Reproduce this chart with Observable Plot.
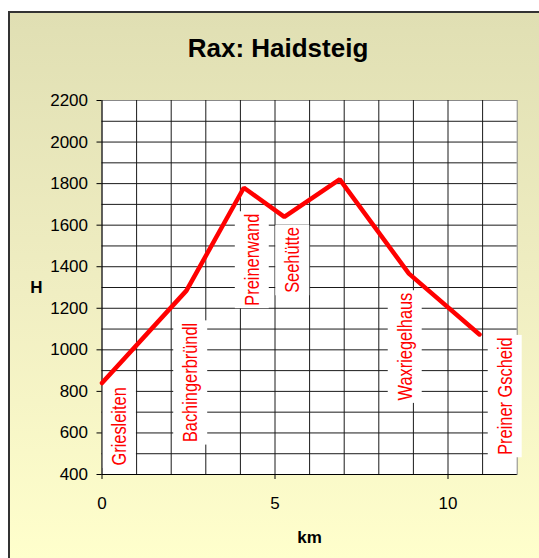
<!DOCTYPE html>
<html>
<head>
<meta charset="utf-8">
<script src="https://cdn.jsdelivr.net/npm/d3@7"></script>
<script src="https://cdn.jsdelivr.net/npm/@observablehq/plot@0.6"></script>
<style>
  html, body { margin: 0; padding: 0; }
  body { width: 539px; height: 558px; overflow: hidden; position: relative; background: #fff; font-family: "Liberation Sans", Arial, sans-serif; }
  #bg { position: absolute; left: 8px; top: 11px; width: 600px; height: 600px; box-sizing: border-box;
        border-left: 2px solid #333; border-top: 2px solid #333;
        background: linear-gradient(to bottom, #e0dfb3 0px, #f0eec2 280px, #ffffcc 547px); }
  #title { position: absolute; left: 0; top: 34.7px; width: 556px; text-align: center; font-size: 26px; line-height: 26px; font-weight: bold; color: #000; font-family: "Liberation Sans", Arial, sans-serif; }
  #chart { position: absolute; left: 0; top: 0; }
</style>
</head>
<body>
<div id="bg"></div>
<div id="title">Rax: Haidsteig</div>
<div id="chart"></div>
<script>
// Route profile (km, altitude H in m)
const routeKm = [0, 2.44, 4.10, 5.27, 6.87, 8.87, 10.91];
const routeH  = [840, 1285, 1780, 1640, 1820, 1367, 1074];

// Waypoint labels and the anchor (centre km, top altitude) of each label
const labelNames = ["Griesleiten", "Bachingerbründl", "Preinerwand", "Seehütte", "Waxriegelhaus", "Preiner Gscheid"];
const labelKm    = [0.51, 2.57, 4.35, 5.52, 8.77, 11.66];
const labelTopH  = [820, 1130, 1655, 1590, 1275, 1060];

// Axis ticks
const xTicks = [0, 5, 10];
const yTicks = [400, 600, 800, 1000, 1200, 1400, 1600, 1800, 2000, 2200];
const xGrid = d3.range(1, 12);
const yGrid = d3.range(500, 2200, 100);

const route = routeKm.map((km, i) => ({km, h: routeH[i]}));
const labels = labelNames.map((name, i) => ({name, km: labelKm[i], top: labelTopH[i]}));

const FONT = "'Liberation Sans', Arial, sans-serif";

const plot = Plot.plot({
  width: 539,
  height: 558,
  marginLeft: 101.5,
  marginRight: 22.3,
  marginTop: 100,
  marginBottom: 84,
  x: {domain: [0, 12]},
  y: {domain: [400, 2200]},
  style: {background: "transparent", fontFamily: FONT, fontSize: "17px", color: "#000", overflow: "visible"},
  marks: [
    Plot.frame({fill: "#fff", stroke: "#888"}),
    Plot.ruleX(xGrid, {stroke: "#1a1a1a", strokeWidth: 1}),
    Plot.ruleY(yGrid, {stroke: "#1a1a1a", strokeWidth: 1}),
    Plot.text(labels, {
      x: "km", y: "top", text: "name", rotate: -90,
      textAnchor: "end", lineAnchor: "middle",
      fill: "#ff0000", fontSize: 20, fontFamily: FONT,
      className: "wp-labels"
    }),
    Plot.ruleX([0], {stroke: "#000", strokeWidth: 1}),
    Plot.ruleY([400], {stroke: "#000", strokeWidth: 1}),
    Plot.axisX({ticks: xTicks, tickFormat: "d", tickSize: 5, tickPadding: 17, label: null, fontSize: 17, fontFamily: FONT}),
    Plot.axisY({ticks: yTicks, tickFormat: "d", tickSize: 5, tickPadding: 9, label: null, fontSize: 17, fontFamily: FONT}),
    Plot.text(["H"], {frameAnchor: "left", dx: -65.5, text: d => d, fontWeight: "bold", fontSize: 17, fontFamily: FONT, textAnchor: "middle", lineAnchor: "middle"}),
    Plot.text(["km"], {frameAnchor: "bottom", dy: 63, text: d => d, fontWeight: "bold", fontSize: 17, fontFamily: FONT, textAnchor: "middle", lineAnchor: "middle"}),
    Plot.line(route, {x: "km", y: "h", stroke: "#ff0000", strokeWidth: 4.5, strokeLinejoin: "miter"})
  ]
});

document.getElementById("chart").appendChild(plot);

// condensed (narrow) waypoint labels with white boxes behind them
const g = plot.querySelector("g.wp-labels");
if (g) {
  const texts = Array.from(g.querySelectorAll("text"));
  texts.forEach(t => {
    const tr = (t.getAttribute("transform") || "") + " scale(0.82,1)";
    t.setAttribute("transform", tr);
    const b = t.getBBox();
    const r = document.createElementNS("http://www.w3.org/2000/svg", "rect");
    const padAlong = 3, padPerp = 5.5;
    r.setAttribute("x", b.x - padAlong);
    r.setAttribute("y", b.y - padPerp);
    r.setAttribute("width", b.width + 2 * padAlong);
    r.setAttribute("height", b.height + 2 * padPerp);
    r.setAttribute("fill", "#fff");
    r.setAttribute("transform", tr);
    g.insertBefore(r, t);
  });
}
</script>
</body>
</html>
